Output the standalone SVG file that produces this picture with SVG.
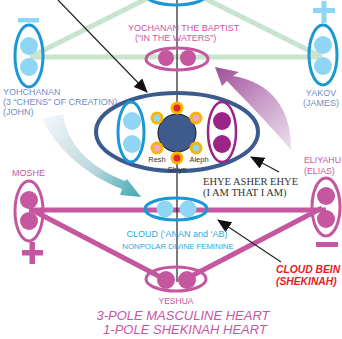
<svg xmlns="http://www.w3.org/2000/svg" width="342" height="339" viewBox="0 0 342 339">
<defs>
<style>
text{font-family:"Liberation Sans",Arial,sans-serif}
text.serif{font-family:"Liberation Serif","Times New Roman",serif}
.pk{fill:#c8569f}
.sl{fill:#6f8dc6}
.lb{fill:#2aa9e0}
.pkl{stroke:#c4579f;stroke-width:5;fill:none}
.grl{stroke:#c9e5cd;stroke-width:5;fill:none}
.bk{stroke:#222;stroke-width:1.2;fill:none}
.pke{stroke:#c4579f;stroke-width:3;fill:none}
.ble{stroke:#1b97d5;stroke-width:3;fill:none}
.pue{stroke:#9c2388;stroke-width:2.5;fill:none}
.lbc{fill:#8fd6f4}
.pkc{fill:#c4579f}
.puc{fill:#9c2388}
.ring{fill:#f7b500}
.red{fill:#e4201f;font-weight:bold;font-style:italic}
</style>
<marker id="ah" viewBox="0 0 14 12" refX="13" refY="6" markerWidth="14" markerHeight="12" markerUnits="userSpaceOnUse" orient="auto">
<path d="M0,0 L14,6 L0,12 z" fill="#111"/>
</marker>
<linearGradient id="gb" gradientUnits="userSpaceOnUse" x1="45" y1="118" x2="142" y2="197">
<stop offset="0" stop-color="#f2f6f8"/>
<stop offset="0.55" stop-color="#bcd8df"/>
<stop offset="1" stop-color="#3fa7b1"/>
</linearGradient>
<linearGradient id="gp" gradientUnits="userSpaceOnUse" x1="291" y1="150" x2="215" y2="67">
<stop offset="0" stop-color="#ece0ee"/>
<stop offset="0.5" stop-color="#c99cc9"/>
<stop offset="1" stop-color="#9f4f96"/>
</linearGradient>
</defs>

<g id="connectors">
<line class="grl" x1="152" y1="-4" x2="30" y2="57"/>
<line class="grl" x1="200" y1="-4" x2="322" y2="57"/>
<line class="grl" x1="30" y1="57" x2="322" y2="57"/>
<line class="pkl" x1="29" y1="210" x2="326" y2="210"/>
<line class="pkl" x1="32" y1="210" x2="170" y2="282"/>
<line class="pkl" x1="180" y1="282" x2="322" y2="208"/>
<line class="bk" x1="177" y1="0" x2="177" y2="282"/>
<line class="bk" x1="58" y1="0" x2="147" y2="92" marker-end="url(#ah)"/>
<line class="bk" x1="279" y1="172" x2="251" y2="157" marker-end="url(#ah)"/>
<line class="bk" x1="281" y1="262" x2="218" y2="220" marker-end="url(#ah)"/>
<path d="M42,119 L63,114 C66,140 86,166 125,181 L127,179 L141,197 L120,195 L122,189 C88,176 57,150 42,119 Z" fill="url(#gb)"/>
<path d="M215,67 L239,72 L233,76 C270,82 292,108 291,150 C270,125 245,100 227,81 L222,86 Z" fill="url(#gp)"/>
</g>

<g id="top-ellipse">
<ellipse class="ble" cx="176" cy="-6" rx="31" ry="11"/>
</g>

<g id="yohchanan">
<rect x="18" y="18" width="21" height="4.5" class="lbc"/>
<ellipse class="ble" cx="29" cy="56" rx="14" ry="31"/>
<circle class="lbc" cx="29" cy="46" r="9"/>
<circle class="lbc" cx="29" cy="67" r="9"/>
<text class="sl" font-size="9" x="3" y="95">YOHCHANAN</text>
<text class="sl" font-size="9" x="3" y="105">(3 “CHENS” OF CREATION)</text>
<text class="sl" font-size="9" x="3" y="115">(JOHN)</text>
</g>

<g id="yakov">
<rect x="313" y="8" width="22" height="5" class="lbc"/>
<rect x="321.5" y="1" width="5" height="22" class="lbc"/>
<ellipse class="ble" cx="323" cy="55" rx="14" ry="30"/>
<circle class="lbc" cx="323" cy="45" r="9"/>
<circle class="lbc" cx="323" cy="66" r="9"/>
<text class="sl" font-size="9" x="321" y="96" text-anchor="middle">YAKOV</text>
<text class="sl" font-size="9" x="321" y="106" text-anchor="middle">(JAMES)</text>
</g>

<g id="baptist">
<text class="pk" font-size="9" x="128" y="31">YOCHANAN THE BAPTIST</text>
<text class="pk" font-size="9" x="135" y="41">(“IN THE WATERS”)</text>
<ellipse class="pke" cx="177" cy="59" rx="31" ry="11"/>
<circle class="pkc" cx="166" cy="58" r="8"/>
<circle class="pkc" cx="188" cy="58" r="8"/>
</g>

<g id="heart">
<ellipse cx="177" cy="132" rx="81" ry="39" fill="none" stroke="#3c5a8e" stroke-width="4"/>
<ellipse class="ble" cx="131" cy="132" rx="13" ry="30" stroke-width="2.5"/>
<circle class="lbc" cx="132" cy="121" r="9"/>
<circle class="lbc" cx="132" cy="144" r="9"/>
<ellipse class="pue" cx="222" cy="132" rx="14" ry="30"/>
<circle class="puc" cx="222" cy="121" r="9"/>
<circle class="puc" cx="222" cy="144" r="9"/>
<circle cx="177" cy="133" r="19" fill="#3f5a8c" stroke="#111" stroke-width="1"/>
<circle class="ring" cx="177" cy="108" r="6.5"/><circle cx="177" cy="108" r="3.5" fill="#e3262b"/>
<circle class="ring" cx="177" cy="158" r="6.5"/><circle cx="177" cy="158" r="3.5" fill="#e3262b"/>
<circle class="ring" cx="157" cy="118" r="6.5"/><circle cx="157" cy="118" r="3.5" fill="#8fd6f4"/>
<circle class="ring" cx="196" cy="118" r="6.5"/><circle cx="196" cy="118" r="3.5" fill="#f1a7c3"/>
<circle class="ring" cx="157" cy="148" r="6.5"/><circle cx="157" cy="148" r="3.5" fill="#f1a7c3"/>
<circle class="ring" cx="196" cy="148" r="6.5"/><circle cx="196" cy="148" r="3.5" fill="#8fd6f4"/>
<text font-size="7.5" fill="#333" x="157" y="162" text-anchor="middle">Resh</text>
<text font-size="7.5" fill="#333" x="199" y="162" text-anchor="middle">Aleph</text>
<text font-size="7.5" fill="#333" x="177" y="172" text-anchor="middle">Shiyn</text>
</g>

<g id="ehye">
<text class="serif" font-size="10.5" fill="#333" x="203" y="185">EHYE ASHER EHYE</text>
<text class="serif" font-size="10.5" fill="#333" x="203" y="196">(I AM THAT I AM)</text>
</g>

<g id="moshe">
<text class="pk" font-size="9" x="12" y="176">MOSHE</text>
<ellipse class="pke" cx="29" cy="211" rx="14" ry="30"/>
<circle class="pkc" cx="29" cy="200" r="9"/>
<circle class="pkc" cx="29" cy="221" r="9"/>
<rect x="22" y="250" width="21" height="5.5" class="pkc"/>
<rect x="29.5" y="242" width="5.5" height="22" class="pkc"/>
</g>

<g id="eliyahu">
<text class="pk" font-size="8.8" x="304" y="163">ELIYAHU</text>
<text class="pk" font-size="8.8" x="304" y="174">(ELIAS)</text>
<ellipse class="pke" cx="326" cy="207" rx="14" ry="29"/>
<circle class="pkc" cx="326" cy="196" r="9"/>
<circle class="pkc" cx="326" cy="219" r="9"/>
<rect x="316" y="242" width="22" height="5" class="pkc"/>
</g>

<g id="cloud">
<ellipse class="ble" cx="176" cy="209" rx="31" ry="11"/>
<circle class="lbc" cx="165" cy="209" r="8.5"/>
<circle class="lbc" cx="188" cy="209" r="8.5"/>
<text class="lb" font-size="9" x="177" y="237" text-anchor="middle">CLOUD (‘ANAN and ‘AB)</text>
<text class="lb" font-size="7.8" x="178" y="248.5" text-anchor="middle">NONPOLAR DIVINE FEMININE</text>
</g>

<g id="yeshua">
<ellipse class="pke" cx="176" cy="279" rx="30" ry="12"/>
<circle class="pkc" cx="166" cy="280" r="9"/>
<circle class="pkc" cx="187" cy="280" r="9"/>
<text class="pk" font-size="8.5" x="176" y="304" text-anchor="middle">YESHUA</text>
</g>

<g id="shekinah">
<text class="red" font-size="10.3" x="276" y="273">CLOUD BEIN</text>
<text class="red" font-size="10.3" x="276" y="285">(SHEKINAH)</text>
</g>

<g id="title">
<text class="pk" font-size="13" font-style="italic" x="183" y="320" text-anchor="middle">3-POLE MASCULINE HEART</text>
<text class="pk" font-size="13" font-style="italic" x="185" y="334" text-anchor="middle">1-POLE SHEKINAH HEART</text>
</g>
</svg>
